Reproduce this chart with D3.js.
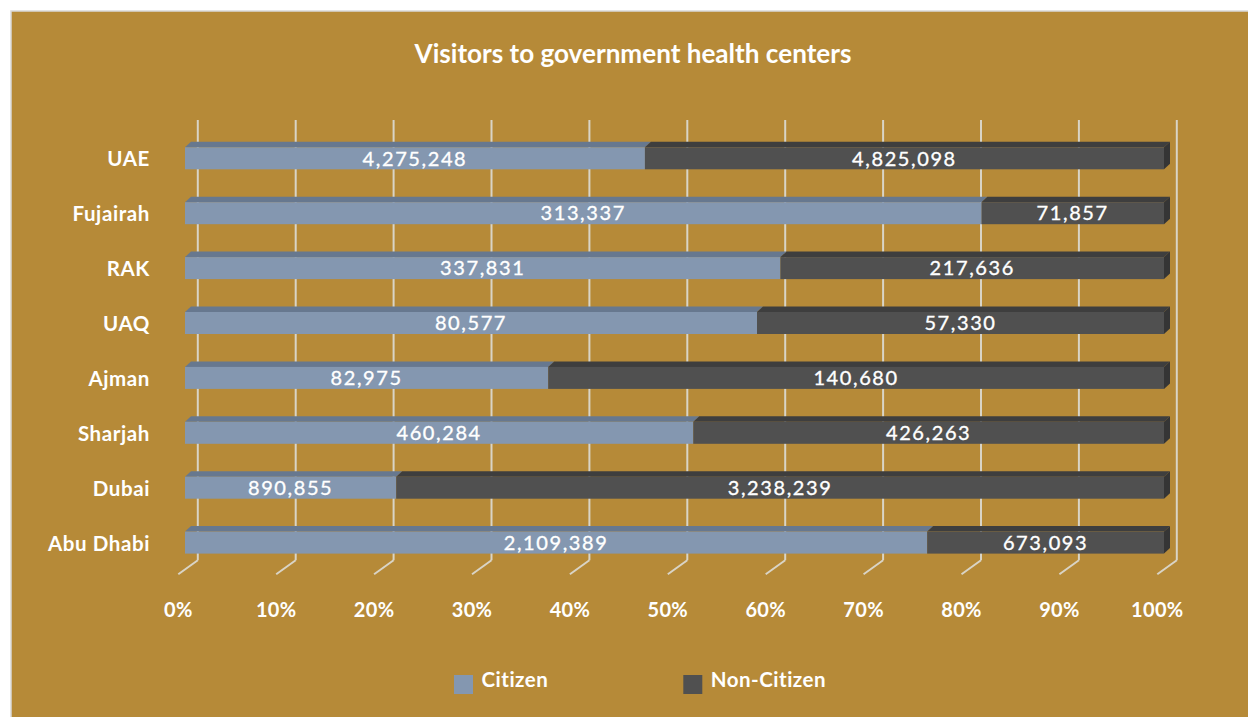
<!DOCTYPE html>
<html><head><meta charset="utf-8">
<script src="https://cdn.jsdelivr.net/npm/d3@7/dist/d3.min.js"></script>
<style>html,body{margin:0;padding:0;background:#fff;}svg{display:block;}</style>
</head><body>
<script>
const categories = ["UAE","Fujairah","RAK","UAQ","Ajman","Sharjah","Dubai","Abu Dhabi"];
const citizen    = [4275248, 313337, 337831, 80577, 82975, 460284, 890855, 2109389];
const nonCitizen = [4825098, 71857, 217636, 57330, 140680, 426263, 3238239, 673093];
const seriesNames = ["Citizen","Non-Citizen"];
const tickValues = [0,0.1,0.2,0.3,0.4,0.5,0.6,0.7,0.8,0.9,1];
const title = "Visitors to government health centers";

const W = 1248, H = 717;
const FONT = "Lato, 'Open Sans', sans-serif";
const colors = {
  Citizen: {front:"#8497B0", top:"#67788F", side:"#5d6c82"},
  "Non-Citizen": {front:"#505050", top:"#3e3e3e", side:"#353535"}
};

const svg = d3.select("body").append("svg").attr("width", W).attr("height", H);
svg.append("rect").attr("x", 11).attr("y", 11).attr("width", W).attr("height", H)
  .attr("fill", "#B68A38").attr("stroke", "#d9d9d9").attr("stroke-width", 1.5);

// front axis scale
const x = d3.scaleLinear().domain([0,1]).range([178.3, 1157.3]);
const wall = {dx: 19.5, dy: -14};
const barOff = {dx: 6.7, dy: 0};
const depth = {dx: 6, dy: -5.5};
const yFloorFront = 574.3, yTop = 120;

const y = d3.scalePoint().domain(categories).range([158.3, 542.6]);
const barH = 22;

// fit text to a target width
function fit(sel, target) {
  const fs = parseFloat(sel.attr("font-size"));
  const w = sel.node().getComputedTextLength();
  sel.attr("font-size", fs * target / w);
}

// title
const t = svg.append("text").attr("x", 633).attr("y", 63)
  .attr("text-anchor","middle").attr("fill","#fff")
  .attr("font-family", FONT).attr("font-weight","bold").attr("font-size", 24).text(title);
fit(t, 437);

// gridlines (back wall) + floor
const g = svg.append("g");
tickValues.forEach(v => {
  const xb = x(v) + wall.dx;
  g.append("line").attr("x1", xb).attr("x2", xb)
    .attr("y1", yTop).attr("y2", yFloorFront + wall.dy)
    .attr("stroke", "#d9d4c6").attr("stroke-width", 2);
  g.append("line").attr("x1", x(v)).attr("y1", yFloorFront)
    .attr("x2", xb).attr("y2", yFloorFront + wall.dy)
    .attr("stroke", "#d9d4c6").attr("stroke-width", 2);
});

// tick labels
svg.append("g").selectAll("text").data(tickValues).join("text")
  .attr("x", d => x(d)).attr("y", 617)
  .attr("text-anchor","middle").attr("fill","#fff")
  .attr("font-family", FONT).attr("font-weight","bold").attr("font-size", 20)
  .attr("letter-spacing", 0.3)
  .text(d => d3.format(".0%")(d));

// category labels
svg.append("g").selectAll("text").data(categories).join("text")
  .attr("x", 150).attr("y", d => y(d) + 8)
  .attr("text-anchor","end").attr("fill","#fff")
  .attr("font-family", FONT).attr("font-weight","bold").attr("font-size", 20.5)
  .attr("letter-spacing", 0.6)
  .text(d => d);

// bars
const bars = svg.append("g");
categories.forEach((c, i) => {
  const total = citizen[i] + nonCitizen[i];
  const segs = [
    {name: "Citizen", v0: 0, v1: citizen[i] / total, val: citizen[i]},
    {name: "Non-Citizen", v0: citizen[i] / total, v1: 1, val: nonCitizen[i]}
  ];
  const yt = y(c) - barH / 2, yb = y(c) + barH / 2;
  segs.forEach((s, k) => {
    const x0 = x(s.v0) + barOff.dx, x1 = x(s.v1) + barOff.dx;
    const col = colors[s.name];
    bars.append("polygon")
      .attr("points", [[x0, yt],[x0+depth.dx, yt+depth.dy],[x1+depth.dx, yt+depth.dy],[x1, yt]].map(p=>p.join(",")).join(" "))
      .attr("fill", col.top);
    bars.append("rect").attr("x", x0).attr("y", yt).attr("width", x1 - x0).attr("height", barH)
      .attr("fill", col.front);
    if (k === segs.length - 1) {
      bars.append("polygon")
        .attr("points", [[x1, yt],[x1+depth.dx, yt+depth.dy],[x1+depth.dx, yb+depth.dy],[x1, yb]].map(p=>p.join(",")).join(" "))
        .attr("fill", col.side);
    }
    bars.append("text").attr("x", (x0 + x1) / 2).attr("y", y(c) + 7.2)
      .attr("text-anchor","middle").attr("fill","#fff")
      .attr("font-family", FONT).attr("font-size", 20).attr("letter-spacing", 1.6)
      .attr("stroke", "#fff").attr("stroke-width", 0.35)
      .text(d3.format(",")(s.val));
  });
});

// legend
const legend = [{name: seriesNames[0], x: 454}, {name: seriesNames[1], x: 683.3}];
legend.forEach(l => {
  svg.append("rect").attr("x", l.x).attr("y", 675).attr("width", 19).attr("height", 19)
    .attr("fill", colors[l.name].front);
  svg.append("text").attr("x", l.x + 27.5).attr("y", 687)
    .attr("fill","#fff").attr("font-family", FONT).attr("font-weight","bold").attr("font-size", 20.5)
    .attr("letter-spacing", 0.5)
    .text(l.name);
});
</script>
</body></html>
